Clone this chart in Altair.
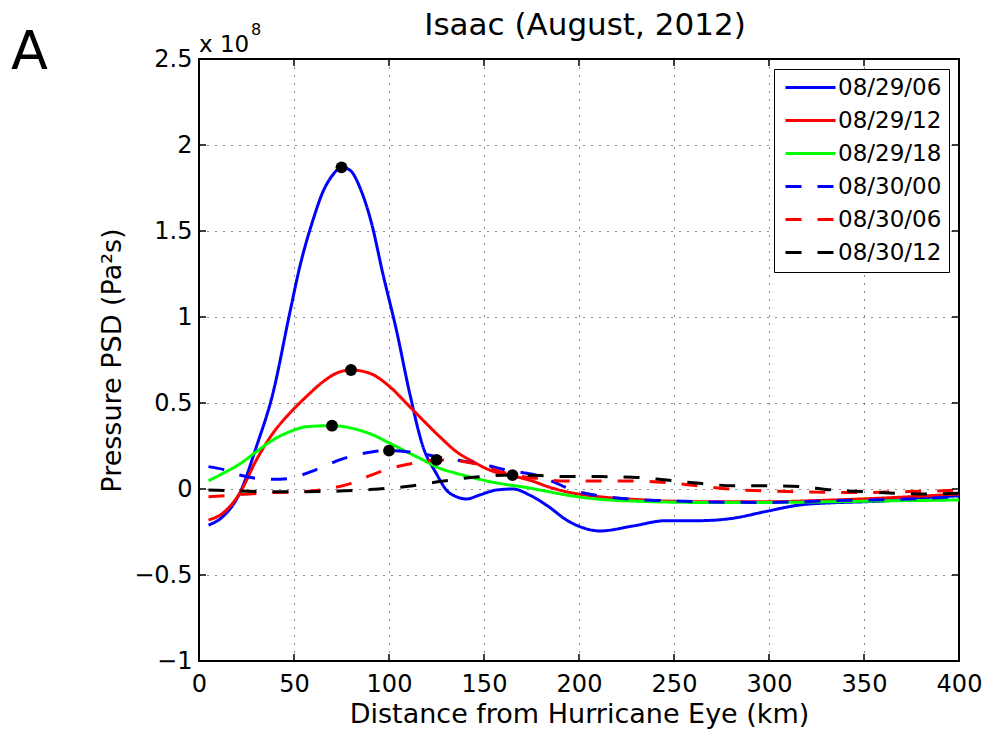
import altair as alt
import pandas as pd

FONT = "DejaVu Sans"

# ---- data (PSD in units of 10^8 Pa^2 s) ----
series_names = ["08/29/06", "08/29/12", "08/29/18", "08/30/00", "08/30/06", "08/30/12"]

km_0829_06 = [5, 12.6, 21.4, 30.2, 38.9, 47.7, 53, 60, 65.3, 70, 75, 79.3, 85.5, 90.7, 96.8,
              103.9, 110.9, 117.9, 124.9, 130.2, 135.5, 140.7, 147.7, 156.5, 165.3, 174, 183.7,
              193.4, 202, 211, 228.4, 246, 263.5, 281, 298.6, 316, 333.7, 351, 368.8, 386, 400]
psd_0829_06 = [-0.21, -0.16, -0.025, 0.246, 0.556, 1.02, 1.29, 1.564, 1.73, 1.82, 1.87, 1.855,
               1.73, 1.55, 1.25, 0.924, 0.556, 0.246, 0.09, -0.006, -0.045, -0.058, -0.035,
               -0.006, 0.0, -0.035, -0.10, -0.18, -0.225, -0.244, -0.215, -0.184, -0.184, -0.17,
               -0.13, -0.093, -0.08, -0.074, -0.064, -0.048, -0.04]

km_0829_12 = [5, 12.6, 21.4, 30.2, 38.9, 47.7, 56.5, 65.3, 72.3, 80, 89.8, 100.4, 109.2, 117.9,
              126.7, 135.5, 144.2, 153, 161.8, 170.5, 175.8, 183.7, 193.4, 211, 228.4, 263.5,
              298.6, 333.7, 368.8, 400]
psd_0829_12 = [-0.18, -0.14, -0.025, 0.169, 0.324, 0.44, 0.537, 0.624, 0.673, 0.692, 0.673,
               0.595, 0.498, 0.40, 0.304, 0.217, 0.159, 0.11, 0.081, 0.062, 0.045, 0.013,
               -0.016, -0.045, -0.06, -0.074, -0.074, -0.064, -0.048, -0.029]

km_0829_18 = [5, 12.6, 21.4, 30.2, 38.9, 47.7, 56.5, 70, 82.8, 91.6, 100.4, 109.2, 117.9, 126.7,
              135.5, 144.2, 153, 160, 170.5, 183.7, 193.4, 211, 228.4, 263.5, 298.6, 333.7,
              368.8, 400]
psd_0829_18 = [0.048, 0.091, 0.145, 0.217, 0.285, 0.333, 0.362, 0.368, 0.347, 0.314, 0.266,
               0.217, 0.169, 0.12, 0.091, 0.066, 0.043, 0.029, 0.012, -0.015, -0.035, -0.06,
               -0.07, -0.078, -0.078, -0.074, -0.068, -0.064]

km_0830_00 = [5, 12.6, 21.4, 30.2, 38.9, 47.7, 56.5, 65.3, 74, 82.8, 91.6, 100, 109.2, 117.9,
              126.7, 135.5, 144.2, 153, 161.8, 170.5, 179.3, 187, 195, 211, 228.4, 246, 263.5,
              298.6, 333.7, 368.8, 400]
psd_0830_00 = [0.13, 0.114, 0.081, 0.062, 0.056, 0.062, 0.091, 0.13, 0.169, 0.198, 0.217, 0.223,
               0.217, 0.204, 0.184, 0.169, 0.153, 0.134, 0.11, 0.095, 0.075, 0.04, 0.0, -0.04,
               -0.06, -0.068, -0.074, -0.078, -0.068, -0.06, -0.045]

km_0830_06 = [5, 21.4, 38.9, 56.5, 69.3, 80, 88.6, 97, 105.7, 114.5, 125, 135.5, 144.2, 153,
              161.8, 170.5, 177.5, 193.4, 211, 228.4, 246, 263.5, 281, 298.6, 316, 333.7, 351,
              368.8, 386, 400]
psd_0830_06 = [-0.045, -0.033, -0.021, -0.014, 0.004, 0.033, 0.072, 0.107, 0.134, 0.153, 0.169,
               0.165, 0.15, 0.12, 0.091, 0.072, 0.062, 0.046, 0.046, 0.046, 0.037, 0.017, -0.002,
               -0.012, -0.016, -0.02, -0.02, -0.016, -0.012, -0.006]

km_0830_12 = [5, 21.4, 47.7, 74, 91.6, 109.2, 126.7, 144.2, 165, 179.3, 193.4, 211, 228.4, 246,
              263.5, 281, 298.6, 316, 333.7, 351, 368.8, 386, 400]
psd_0830_12 = [-0.006, -0.012, -0.016, -0.012, -0.002, 0.014, 0.043, 0.068, 0.081, 0.078, 0.072,
               0.072, 0.069, 0.052, 0.033, 0.019, 0.019, 0.014, -0.006, -0.016, -0.025, -0.029,
               -0.025]

peak_km = [75, 80, 70, 100, 125, 165]
peak_psd = [1.87, 0.692, 0.368, 0.223, 0.169, 0.081]

x_ticks = [0, 50, 100, 150, 200, 250, 300, 350, 400]
y_ticks = [-1, -0.5, 0, 0.5, 1, 1.5, 2, 2.5]

title_text = "Isaac (August, 2012)"
x_title = "Distance from Hurricane Eye (km)"
y_title = "Pressure PSD (Pa²s)"
panel_label = "A"
exp_base = "x 10"
exp_power = "8"

# ---- styles ----
series_colors = ["#0000ff", "#ff0000", "#00ff00", "#0000ff", "#ff0000", "#000000"]
series_dashes = [[1, 0], [1, 0], [1, 0], [16, 16], [16, 16], [16, 16]]

all_km = [km_0829_06, km_0829_12, km_0829_18, km_0830_00, km_0830_06, km_0830_12]
all_psd = [psd_0829_06, psd_0829_12, psd_0829_18, psd_0830_00, psd_0830_06, psd_0830_12]
rows = []
for i, (name, kms, vals) in enumerate(zip(series_names, all_km, all_psd)):
    for j, (k, v) in enumerate(zip(kms, vals)):
        rows.append({"series": name, "km": k, "psd": v, "idx": i, "ord": j})
lines_df = pd.DataFrame(rows)
peaks_df = pd.DataFrame({"km": peak_km, "psd": peak_psd})
xt_df = pd.DataFrame({"km": x_ticks})
yt_df = pd.DataFrame({"psd": y_ticks})

W, H = 760, 602

x_scale = alt.Scale(domain=[0, 400], nice=False, zero=False)
y_scale = alt.Scale(domain=[-1, 2.5], nice=False, zero=False)

x_axis = alt.Axis(values=x_ticks, format="d", labelFlush=False, labelPadding=11,
                  title=x_title, titleY=61, titleBaseline="alphabetic")
y_axis = alt.Axis(values=y_ticks, format="~g", labelFlush=False, labelPadding=7,
                  title=y_title, titleX=-79, titleY=H / 2, titleAlign="center",
                  titleBaseline="alphabetic", titleAngle=270)

legend = alt.Legend(orient="none", legendX=575, legendY=10, padding=7,
                    strokeColor="black", fillColor="white", labelFontSize=23,
                    labelFont=FONT, labelColor="black", symbolType="M-2.5,0H2.5",
                    symbolSize=400, symbolStrokeWidth=3, symbolOffset=18, labelOffset=16,
                    rowPadding=9, labelLimit=400, cornerRadius=0)

X = alt.X("km:Q", scale=x_scale, axis=x_axis)
Y = alt.Y("psd:Q", scale=y_scale, axis=y_axis)

lines = alt.Chart(lines_df).mark_line(strokeWidth=3, interpolate="monotone").encode(
    x=X, y=Y,
    color=alt.Color("series:N", scale=alt.Scale(domain=series_names, range=series_colors),
                    legend=legend, title=None),
    strokeDash=alt.StrokeDash("series:N", scale=alt.Scale(domain=series_names, range=series_dashes),
                              legend=legend, title=None),
    order=alt.Order("ord:Q"),
)

peaks = alt.Chart(peaks_df).mark_circle(size=140, color="black", opacity=1).encode(x=X, y=Y)

tick_len = 7
ticks_bottom = alt.Chart(xt_df).mark_rule(color="black", strokeWidth=1.5).encode(
    x=X, y=alt.value(H), y2=alt.value(H - tick_len))
ticks_top = alt.Chart(xt_df).mark_rule(color="black", strokeWidth=1.5).encode(
    x=X, y=alt.value(0), y2=alt.value(tick_len))
ticks_left = alt.Chart(yt_df).mark_rule(color="black", strokeWidth=1.5).encode(
    y=Y, x=alt.value(0), x2=alt.value(tick_len))
ticks_right = alt.Chart(yt_df).mark_rule(color="black", strokeWidth=1.5).encode(
    y=Y, x=alt.value(W), x2=alt.value(W - tick_len))

txt_title = alt.Chart(pd.DataFrame({"t": [title_text]})).mark_text(
    font=FONT, fontSize=31, align="center", baseline="alphabetic", color="black").encode(
    text="t:N", x=alt.value(386), y=alt.value(-24))
txt_A = alt.Chart(pd.DataFrame({"t": [panel_label]})).mark_text(
    font=FONT, fontSize=54, align="left", baseline="alphabetic", color="black").encode(
    text="t:N", x=alt.value(-188), y=alt.value(10))
txt_exp = alt.Chart(pd.DataFrame({"t": [exp_base]})).mark_text(
    font=FONT, fontSize=23, align="left", baseline="alphabetic", color="black").encode(
    text="t:N", x=alt.value(0), y=alt.value(-7))
txt_pow = alt.Chart(pd.DataFrame({"t": [exp_power]})).mark_text(
    font=FONT, fontSize=16, align="left", baseline="alphabetic", color="black").encode(
    text="t:N", x=alt.value(52), y=alt.value(-24))

chart = alt.layer(
    lines, peaks, ticks_bottom, ticks_top, ticks_left, ticks_right,
    txt_title, txt_A, txt_exp, txt_pow
).resolve_scale(x="shared", y="shared").properties(
    width=W, height=H,
    autosize=alt.AutoSizeParams(type="none"),
    padding={"left": 199, "top": 59, "right": 30, "bottom": 68},
    background="white",
).configure_view(stroke="black", strokeWidth=2).configure_axis(
    labelFont=FONT, labelFontSize=24, labelColor="black",
    titleFont=FONT, titleFontSize=27, titleFontWeight="normal", titleColor="black",
    grid=True, gridColor="black", gridDash=[1, 7], gridWidth=1, gridOpacity=0.9,
    ticks=False, domain=False,
)

chart.save("out.html", embed_options={"renderer": "svg", "actions": False})
